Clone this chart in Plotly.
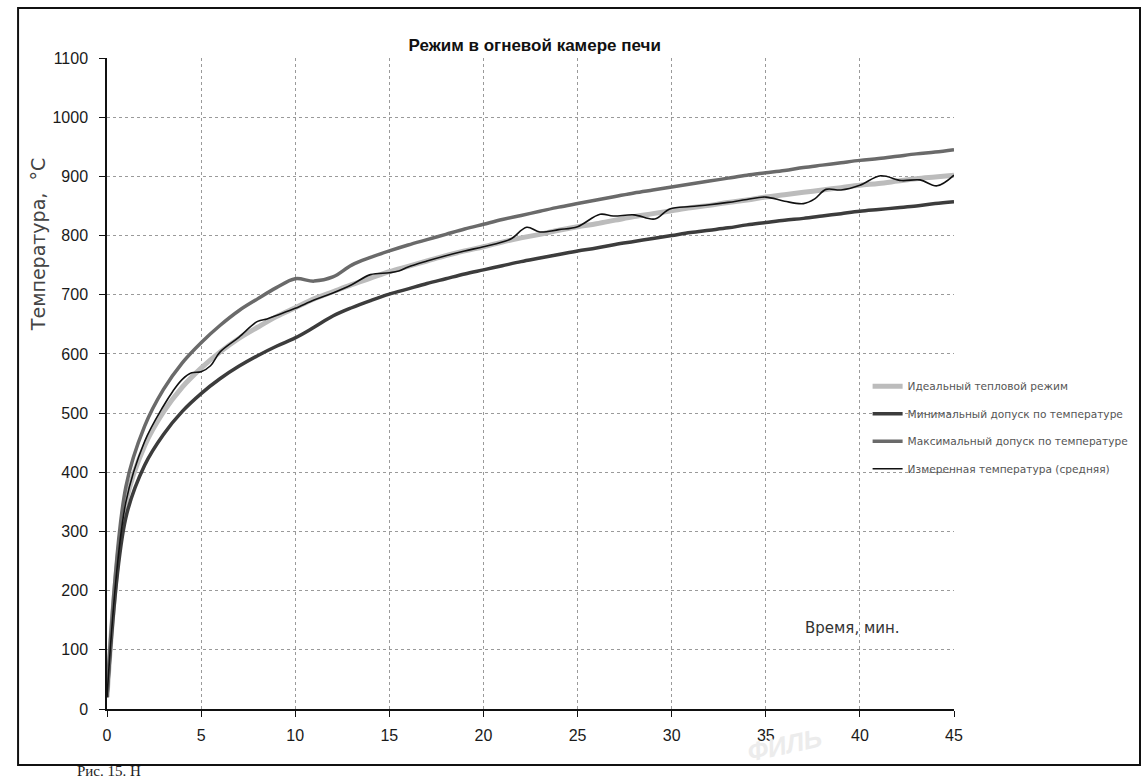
import plotly.graph_objects as go

# ---- data ----
time_min = list(range(0, 46))
ideal = [20, 349, 445, 502, 544, 576, 603, 626, 645, 663, 678, 693, 705, 717, 728, 739,
         748, 757, 766, 774, 781, 789, 796, 802, 809, 815, 820, 826, 832, 837, 842,
         847, 851, 856, 860, 865, 869, 873, 877, 881, 885, 888, 892, 896, 899, 902]
t_min_tol = [20, 323, 412, 464, 503, 533, 558, 579, 597, 613, 627, 645, 664, 678, 690, 701,
             710, 719, 727, 735, 742, 749, 756, 762, 768, 774, 779, 785, 790, 795, 800,
             805, 809, 813, 818, 822, 826, 829, 833, 837, 841, 844, 847, 850, 854, 857]
t_max_tol = [20, 375, 478, 540, 585, 619, 648, 673, 693, 712, 727, 723, 730, 750, 763, 774,
             784, 793, 802, 811, 819, 827, 834, 841, 848, 854, 860, 866, 872, 877, 882,
             887, 892, 897, 902, 906, 910, 915, 919, 923, 927, 930, 934, 938, 941, 945]
meas_time = [0, 1, 2, 3, 3.5, 4, 4.5, 5, 5.5, 6, 7, 8, 8.5, 9, 10, 11, 12, 13, 14, 15, 15.5,
             16, 17, 18, 19, 20, 21, 21.5, 22.3, 23, 24, 25, 26.2, 26.9, 28, 29.1, 29.9,
             31, 32, 33, 34, 35, 36, 37, 37.6, 38.2, 39, 40, 41.1, 42.2, 43.2, 44.1, 45]
measured = [20, 349, 452, 512, 537, 557, 568, 570, 580, 603, 628, 655, 659, 665, 677, 691,
            703, 717, 734, 737, 740, 747, 757, 766, 774, 781, 789, 795, 814, 806, 810, 815,
            836, 833, 835, 828, 845, 849, 852, 856, 861, 865, 858, 854, 862, 878, 877, 885,
            901, 893, 894, 884, 902]

names = ["Идеальный тепловой режим", "Минимальный допуск по температуре",
         "Максимальный допуск по температуре", "Измеренная температура (средняя)"]
x_ticks = list(range(0, 50, 5))
y_ticks = list(range(0, 1200, 100))

fig = go.Figure()
fig.add_trace(go.Scatter(x=time_min, y=ideal, name=names[0], mode="lines",
                         line=dict(color="#bcbcbc", width=5, shape="spline"), legendgroup="a"))
fig.add_trace(go.Scatter(x=time_min, y=t_min_tol, name=names[1], mode="lines",
                         line=dict(color="#3c3c3c", width=3.5, shape="spline"), legendgroup="b"))
fig.add_trace(go.Scatter(x=time_min, y=t_max_tol, name=names[2], mode="lines",
                         line=dict(color="#6a6a6a", width=3.5, shape="spline"), legendgroup="c"))
fig.add_trace(go.Scatter(x=meas_time, y=measured, name=names[3], mode="lines",
                         line=dict(color="#111111", width=1.6, shape="spline"), legendgroup="d"))

tick_font = dict(family="Liberation Sans Narrow, Arial Narrow, Liberation Sans, Arial", size=16, color="#1a1a1a")

fig.update_layout(
    width=1145, height=782,
    margin=dict(l=107, r=191, t=58, b=73, autoexpand=False),
    paper_bgcolor="white", plot_bgcolor="white",
    title=dict(text="<b>Режим в огневой камере печи</b>", xref="container", x=0.467,
               y=1 - 45 / 782, yanchor="middle", xanchor="center",
               font=dict(family="Liberation Sans, Arial", size=17, color="#111")),
    xaxis=dict(range=[0, 45], tickvals=x_ticks, showgrid=True, gridcolor="#9a9a9a",
               griddash="dot", gridwidth=1, showline=True, linecolor="#111", linewidth=1.5,
               ticks="outside", ticklen=6, tickcolor="#111", zeroline=False, tickfont=tick_font,
               ticklabelstandoff=5),
    yaxis=dict(range=[0, 1100], tickvals=y_ticks, showgrid=True, gridcolor="#9a9a9a",
               griddash="dot", gridwidth=1, showline=True, linecolor="#111", linewidth=1.5,
               ticks="outside", ticklen=6, tickcolor="#111", zeroline=False, tickfont=tick_font,
               ticklabelstandoff=8),
    legend=dict(x=0.898, y=0.518, xanchor="left", yanchor="top", bgcolor="rgba(0,0,0,0)",
                font=dict(family="DejaVu Sans, Verdana", size=10.6, color="#555"),
                tracegroupgap=8.5),
    showlegend=True,
)

fig.add_annotation(text="Температура,  °С", xref="paper", yref="paper", x=-0.0815, y=0.714,
                   textangle=-90, showarrow=False, xanchor="center", yanchor="middle",
                   font=dict(family="DejaVu Sans, Verdana", size=19, color="#444"))
fig.add_annotation(text="Время, мин.", xref="x", yref="y", x=39.6, y=137, showarrow=False,
                   xanchor="center", yanchor="middle",
                   font=dict(family="DejaVu Sans, Verdana", size=15, color="#333"))
fig.add_annotation(text="Рис. 15. Н", xref="paper", yref="paper", x=-0.0378, y=-0.1105,
                   showarrow=False, xanchor="left", yanchor="bottom",
                   font=dict(family="Liberation Serif, Times New Roman", size=15, color="#222"))
fig.add_annotation(text="<b><i>ФИЛЬ</i></b>", xref="paper", yref="paper", x=0.80, y=-0.055,
                   showarrow=False, xanchor="center", yanchor="middle", textangle=-12,
                   font=dict(family="Liberation Sans, Arial", size=26, color="#ececec"))
fig.add_shape(type="rect", xref="paper", yref="paper", x0=-0.105, x1=1.2196, y0=-0.086, y1=1.0768,
              line=dict(color="#111", width=2), fillcolor="rgba(0,0,0,0)", layer="above")

fig.write_html("out.html")
